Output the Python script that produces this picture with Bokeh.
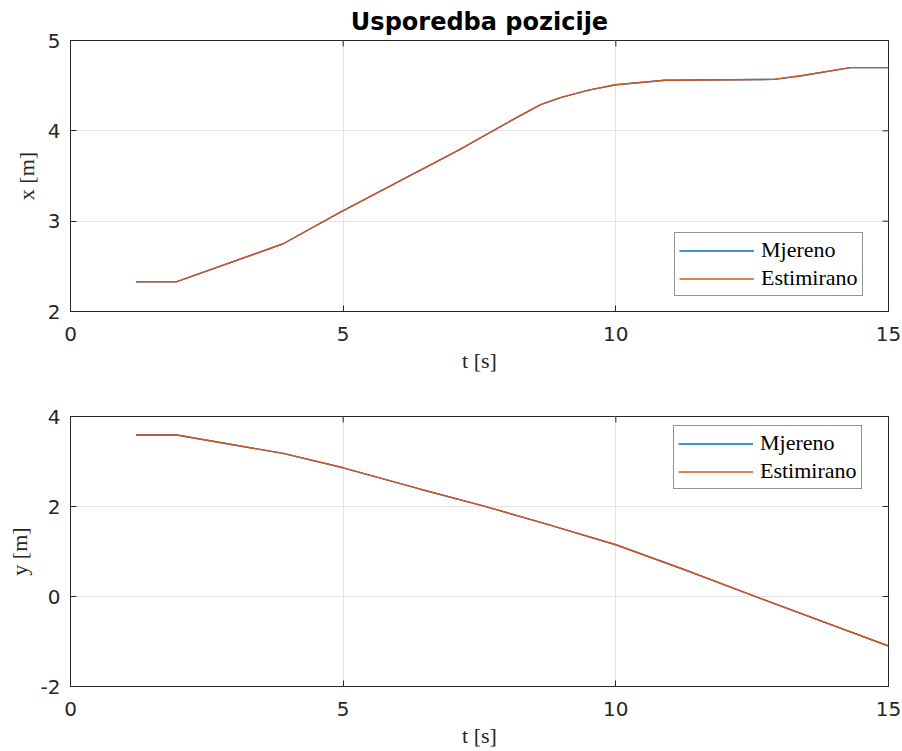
import math

from bokeh.plotting import figure
from bokeh.layouts import column
from bokeh.models import LinearAxis, FixedTicker, Legend, LegendItem, Range1d
from bokeh.embed import file_html
from bokeh.resources import INLINE

# Position x(t)
t_x = [1.2, 1.95, 3.9, 4.95, 6.05, 7.1, 8.07, 8.62, 9.0, 9.5, 10.0, 10.9, 12.9, 13.4, 14.3, 15.0]
x_mjereno = [2.33, 2.33, 2.75, 3.10, 3.45, 3.78, 4.11, 4.29, 4.37, 4.45, 4.51, 4.56, 4.57, 4.61, 4.70, 4.70]
x_estimirano = [2.33, 2.33, 2.75, 3.10, 3.45, 3.78, 4.11, 4.29, 4.37, 4.45, 4.51, 4.56, 4.57, 4.61, 4.70, 4.70]

# Position y(t)
t_y = [1.2, 1.95, 3.9, 5.0, 6.4, 7.55, 8.7, 10.0, 11.25, 12.6, 15.0]
y_mjereno = [3.59, 3.59, 3.18, 2.86, 2.39, 2.02, 1.62, 1.15, 0.60, -0.02, -1.10]
y_estimirano = [3.59, 3.59, 3.18, 2.86, 2.39, 2.02, 1.62, 1.15, 0.60, -0.02, -1.10]

t_ticks = [0, 5, 10, 15]
x_ticks = [2, 3, 4, 5]
y_ticks = [-2, 0, 2, 4]

BLUE = "#0072BD"
ORANGE = "#D95319"
AXIS = "#262626"
TICK_FONT = "DejaVu Sans"
LABEL_FONT = "Liberation Serif"


def make_panel(t, a, b, yr, yticks, ylabel, legend_xy, height, title=None):
    p = figure(width=902, height=height,
               x_range=Range1d(0, 15), y_range=Range1d(*yr),
               output_backend="svg", toolbar_location=None,
               min_border_left=70, min_border_right=14,
               min_border_top=40, min_border_bottom=65,
               x_axis_location=None, y_axis_location=None)
    if title:
        p.title.text = title
        p.title.align = "center"
        p.title.text_font = TICK_FONT
        p.title.text_font_size = "24px"
        p.title.text_font_style = "bold"
        p.title.text_color = "black"
        p.title.standoff = 10
    p.outline_line_color = AXIS
    p.outline_line_width = 1
    p.background_fill_color = "white"
    p.border_fill_color = "white"

    for side in ("below", "left"):
        ax = LinearAxis()
        ax.ticker = FixedTicker(ticks=t_ticks if side == "below" else yticks)
        ax.major_tick_in = 6
        ax.major_tick_out = 0
        ax.minor_tick_line_color = None
        ax.axis_line_color = AXIS
        ax.major_tick_line_color = AXIS
        ax.major_label_text_font = TICK_FONT
        ax.major_label_text_color = AXIS
        ax.major_label_text_font_size = "20px"
        ax.major_label_standoff = 10 if side == "left" else 15
        if side == "left":
            ax.major_label_overrides = {v: str(v) for v in yticks}
        ax.axis_label = "t [s]" if side == "below" else ylabel
        ax.axis_label_text_font = LABEL_FONT
        ax.axis_label_text_font_size = "22px"
        ax.axis_label_text_font_style = "normal"
        ax.axis_label_text_color = AXIS
        ax.axis_label_standoff = 4 if side == "below" else 6
        p.add_layout(ax, side)

    p.xgrid.ticker = FixedTicker(ticks=t_ticks)
    p.ygrid.ticker = FixedTicker(ticks=yticks)
    p.xgrid.grid_line_color = "#e3e3e3"
    p.ygrid.grid_line_color = "#e3e3e3"

    # inward tick marks along the top and right edges of the box
    p.scatter(t_ticks, [yr[1]] * len(t_ticks), marker="dash", size=12,
              angle=math.pi / 2, line_color=AXIS, line_width=1)
    p.scatter([15] * len(yticks), yticks, marker="dash", size=12,
              line_color=AXIS, line_width=1)

    r1 = p.line(t, a, line_color=BLUE, line_width=1.4)
    r2 = p.line(t, b, line_color=ORANGE, line_width=1.4)

    leg = Legend(items=[LegendItem(label="Mjereno", renderers=[r1]),
                        LegendItem(label="Estimirano", renderers=[r2])],
                 location=legend_xy)
    leg.label_text_font = LABEL_FONT
    leg.label_text_font_size = "22px"
    leg.label_text_color = "black"
    leg.border_line_color = AXIS
    leg.border_line_width = 1
    leg.background_fill_alpha = 1
    leg.glyph_width = 75
    leg.glyph_height = 21
    leg.label_height = 21
    leg.label_standoff = 7
    leg.spacing = 2
    leg.padding = 4
    leg.margin = 0
    p.add_layout(leg, "center")
    return p


top = make_panel(t_x, x_mjereno, x_estimirano, (2, 5), x_ticks, "x [m]",
                 (604, 15), 376, title="Usporedba pozicije")
bottom = make_panel(t_y, y_mjereno, y_estimirano, (-2, 4), y_ticks, "y [m]",
                    (603, 197), 375)

layout = column(top, bottom, spacing=0)
open("out.html", "w").write(file_html(layout, INLINE))
